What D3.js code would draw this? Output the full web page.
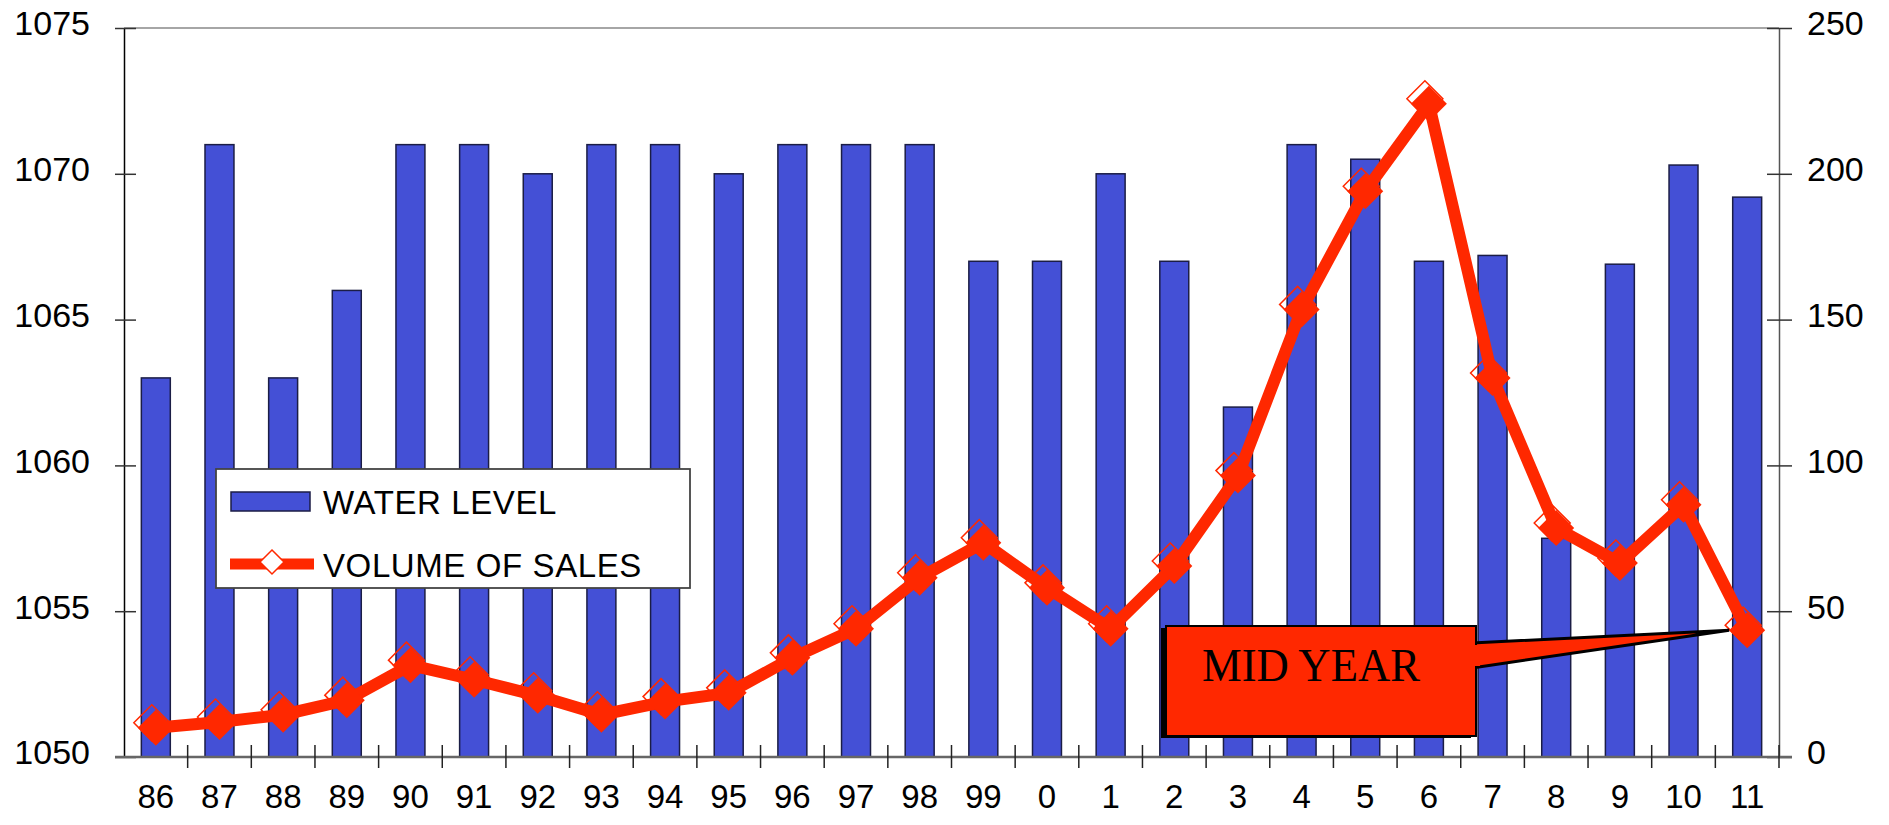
<!DOCTYPE html>
<html>
<head>
<meta charset="utf-8">
<script src="https://cdn.jsdelivr.net/npm/d3@7/dist/d3.min.js"></script>
<style>
  html, body { margin: 0; padding: 0; background: #fff; }
  svg { display: block; }
  text { font-family: "Liberation Sans", Arial, sans-serif; fill: #000; }
</style>
</head>
<body>
<svg id="chart" width="1889" height="825"></svg>
<script>
// ---- data ----
const years = ["86","87","88","89","90","91","92","93","94","95","96","97","98","99","0","1","2","3","4","5","6","7","8","9","10","11"];
const waterLevel = [1063,1071,1063,1066,1071,1071,1070,1071,1071,1070,1071,1071,1071,1067,1067,1070,1067,1062,1071,1070.5,1067,1067.2,1057.5,1066.9,1070.3,1069.2];
const volumeOfSales = [10,12,14.5,19.5,31.5,26.5,21,14.5,19,22,34,44,61.5,73.5,58,44,65.5,96.5,153.5,194,224,130,78.5,66.5,86.5,43.5];
const leftTicks = [1050,1055,1060,1065,1070,1075];
const rightTicks = [0,50,100,150,200,250];
const seriesNames = ["WATER LEVEL","VOLUME OF SALES"];
const calloutText = "MID YEAR";

// ---- layout ----
const L = 124, R = 1779, T = 28, B = 757;
const BLUE = "#4450d6", RED = "#ff2800";
const svg = d3.select("#chart");

const x = d3.scaleBand().domain(years).range([L, R]).paddingInner(0.545).paddingOuter(0.2725);
const yL = d3.scaleLinear().domain([1050, 1075]).range([B, T]);
const yR = d3.scaleLinear().domain([0, 250]).range([B, T]);
const cx = d => x(d) + x.bandwidth() / 2;

// top border
svg.append("line").attr("x1", L).attr("x2", R).attr("y1", T).attr("y2", T)
  .attr("stroke", "#888").attr("stroke-width", 1.5);

// bars
svg.append("g").selectAll("rect").data(years).join("rect")
  .attr("x", d => x(d))
  .attr("y", (d, i) => yL(waterLevel[i]))
  .attr("width", x.bandwidth())
  .attr("height", (d, i) => B - yL(waterLevel[i]))
  .attr("fill", BLUE).attr("stroke", "#1b1d45").attr("stroke-width", 1.5);

// left axis
const gL = svg.append("g").attr("transform", `translate(${L},0)`)
  .call(d3.axisLeft(yL).tickValues(leftTicks).tickSize(0).tickPadding(34).tickFormat(d3.format("d")));
gL.select(".domain").attr("stroke", "#000").attr("stroke-width", 1.5);
gL.selectAll(".tick line").attr("x1", -9).attr("x2", 12).attr("stroke", "#333").attr("stroke-width", 1.5);
gL.selectAll(".tick text").attr("font-size", 34).attr("font-family", "Liberation Sans, Arial").attr("dy", "0.2em");

// right axis
const gR = svg.append("g").attr("transform", `translate(${R},0)`)
  .call(d3.axisRight(yR).tickValues(rightTicks).tickSize(0).tickPadding(28).tickFormat(d3.format("d")));
gR.select(".domain").attr("stroke", "#555").attr("stroke-width", 1.5);
gR.selectAll(".tick line").attr("x1", -12).attr("x2", 13).attr("stroke", "#333").attr("stroke-width", 1.5);
gR.selectAll(".tick text").attr("font-size", 34).attr("font-family", "Liberation Sans, Arial").attr("dy", "0.2em");

// bottom axis
const gB = svg.append("g").attr("transform", `translate(0,${B})`)
  .call(d3.axisBottom(x).tickSize(0).tickPadding(36));
gB.select(".domain").attr("d", `M${L - 9},0H${R + 13}`).attr("stroke", "#666").attr("stroke-width", 2.5);
gB.selectAll(".tick text").attr("font-size", 33).attr("font-family", "Liberation Sans, Arial").attr("dy", "0.45em");
// boundary ticks between categories
const bounds = d3.range(1, years.length + 1).map(i => L + x.step() * i);
gB.append("g").selectAll("line").data(bounds).join("line")
  .attr("x1", d => d).attr("x2", d => d).attr("y1", -12).attr("y2", 11)
  .attr("stroke", "#222").attr("stroke-width", 1.5);

// line series
const pts = years.map((d, i) => [cx(d), yR(volumeOfSales[i])]);
svg.append("path").datum(pts)
  .attr("d", d3.line())
  .attr("fill", "none").attr("stroke", RED).attr("stroke-width", 12).attr("stroke-linejoin", "miter");
const diamond = (r) => `M0,${-r}L${r},0L0,${r}L${-r},0Z`;
svg.append("g").selectAll("path.hollow").data(pts).join("path")
  .attr("class", "hollow")
  .attr("transform", d => `translate(${d[0] - 4},${d[1] - 5})`)
  .attr("d", diamond(18)).attr("fill", "none").attr("stroke", RED).attr("stroke-width", 1.5);
svg.append("g").selectAll("path.solid").data(pts).join("path")
  .attr("class", "solid")
  .attr("transform", d => `translate(${d[0]},${d[1]})`)
  .attr("d", diamond(18)).attr("fill", RED);

// legend
const lg = svg.append("g");
lg.append("rect").attr("x", 216).attr("y", 469).attr("width", 474).attr("height", 119)
  .attr("fill", "#fff").attr("stroke", "#444").attr("stroke-width", 1.8);
lg.append("rect").attr("x", 231).attr("y", 492).attr("width", 79).attr("height", 19)
  .attr("fill", BLUE).attr("stroke", "#1b1d45").attr("stroke-width", 1.5);
lg.append("text").attr("x", 323).attr("y", 514).attr("font-size", 33).attr("letter-spacing", 0.6).text(seriesNames[0]);
lg.append("line").attr("x1", 230).attr("x2", 314).attr("y1", 564).attr("y2", 564)
  .attr("stroke", RED).attr("stroke-width", 11);
lg.append("path").attr("transform", "translate(272,562)").attr("d", diamond(12))
  .attr("fill", "#fff").attr("stroke", RED).attr("stroke-width", 1.5);
lg.append("text").attr("x", 323).attr("y", 577).attr("font-size", 33).attr("letter-spacing", 0.6).text(seriesNames[1]);

// callout
const last = pts[pts.length - 1];
const tip = [last[0] - 18, last[1]];
const cg = svg.append("g");
const rx = 1166, ry = 626, rw = 310, rh = 110;
cg.append("rect").attr("x", rx - 5).attr("y", ry + 2).attr("width", rw).attr("height", rh).attr("fill", "#000");
cg.append("polygon")
  .attr("points", [[rx + rw - 4, 643], tip, [rx + rw - 4, 668]].map(p => p.join(",")).join(" "))
  .attr("fill", RED).attr("stroke", "#000").attr("stroke-width", 3).attr("stroke-linejoin", "miter");
cg.append("rect").attr("x", rx).attr("y", ry).attr("width", rw).attr("height", rh)
  .attr("fill", RED).attr("stroke", "#000").attr("stroke-width", 2);
cg.append("rect").attr("x", rx + rw - 6).attr("y", 645).attr("width", 10).attr("height", 21).attr("fill", RED);
cg.append("text").attr("x", 1202).attr("y", 681)
  .style("font-family", "'Liberation Serif', 'Times New Roman', serif")
  .attr("font-size", 47).attr("textLength", 218).attr("lengthAdjust", "spacingAndGlyphs")
  .text(calloutText);
</script>
</body>
</html>
